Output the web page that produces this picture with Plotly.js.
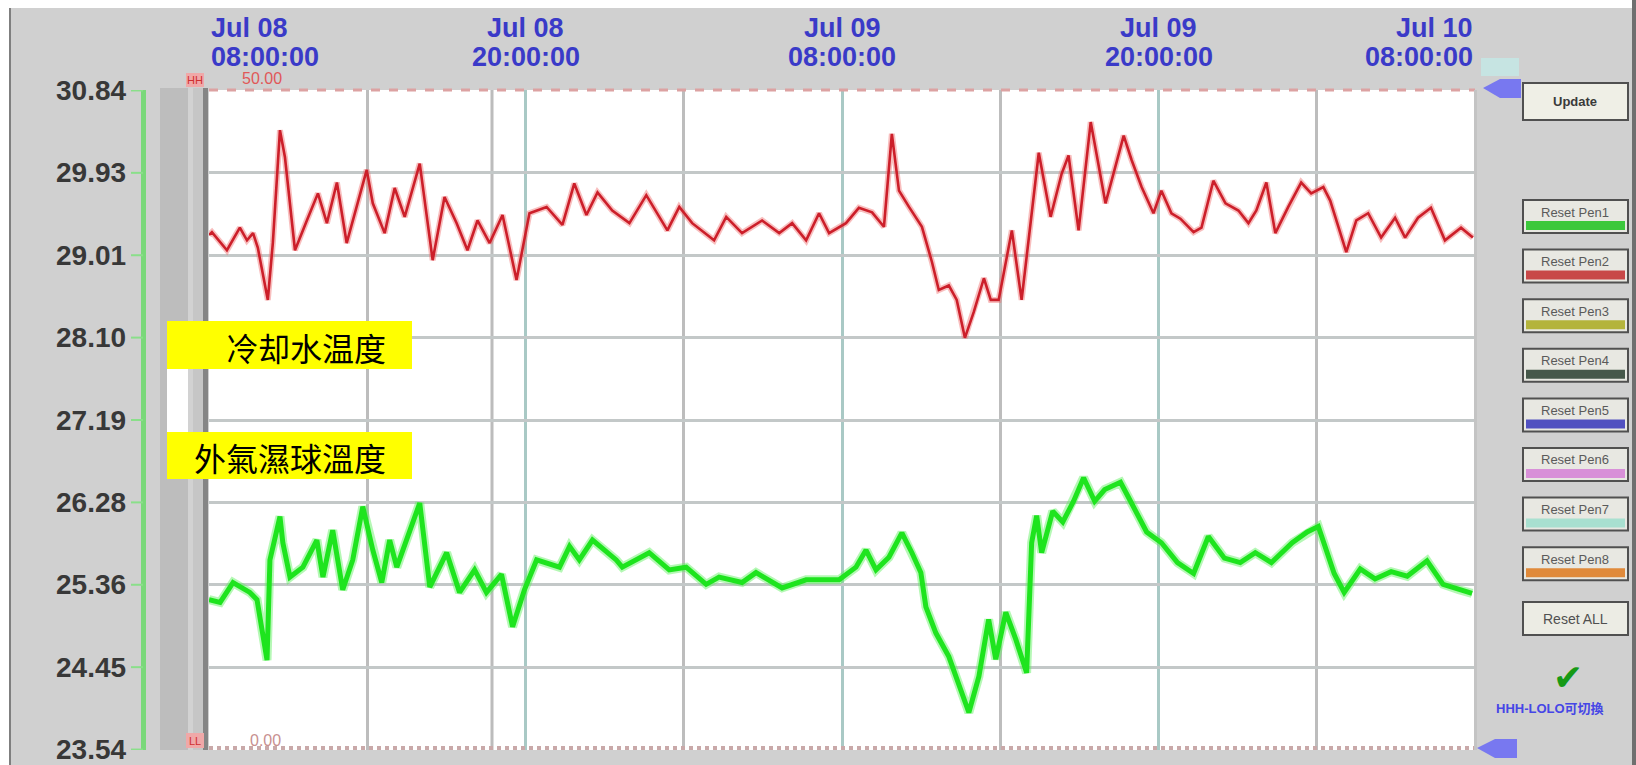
<!DOCTYPE html>
<html>
<head>
<meta charset="utf-8">
<script src="https://cdn.plot.ly/plotly-3.0.1.min.js"></script>
<style>
  html, body { margin: 0; padding: 0; background: #ffffff; }
  #chart { width: 1636px; height: 765px; }
</style>
</head>
<body>
<div id="chart"></div>
<script>
// ---- trend data: hours after Jul 08 08:00 and temperatures (°C) ----
const hoursCooling = [
  0, 0.11, 0.68, 1.17, 1.44, 1.67, 1.85, 2.04, 2.23, 2.42,
  2.69, 2.88, 3.26, 3.71, 4.13, 4.47, 4.85, 5.22, 5.45, 5.98,
  6.21, 6.66, 7.04, 7.42, 7.99, 8.48, 8.93, 9.39, 9.80, 10.18,
  10.64, 11.13, 11.66, 11.96, 12.15, 12.80, 13.40, 13.85, 14.31, 14.73,
  15.29, 15.94, 16.58, 17.38, 17.83, 18.32, 19.15, 19.61, 20.21, 20.97,
  21.62, 22.11, 22.64, 23.13, 23.51, 24.15, 24.64, 25.14, 25.59, 25.89,
  26.16, 26.54, 27.03, 27.41, 27.67, 28.05, 28.35, 28.66, 29.00, 29.38,
  29.64, 29.94, 30.44, 30.81, 31.46, 31.91, 32.33, 32.59, 32.97, 33.43,
  33.99, 34.68, 34.98, 35.36, 35.81, 36.11, 36.49, 36.83, 37.33, 37.63,
  38.08, 38.54, 39.03, 39.41, 39.71, 40.09, 40.43, 40.92, 41.41, 41.79,
  42.25, 42.51, 43.12, 43.50, 43.95, 44.44, 44.97, 45.35, 45.84, 46.33,
  46.86, 47.47, 47.92
];
const coolingWaterTemp = [
  29.24, 29.27, 29.07, 29.32, 29.18, 29.26, 29.10, 28.79, 28.52, 29.15,
  30.40, 30.10, 29.07, 29.40, 29.70, 29.37, 29.82, 29.15, 29.40, 29.96,
  29.59, 29.26, 29.76, 29.44, 30.03, 28.96, 29.66, 29.37, 29.07, 29.40,
  29.15, 29.46, 28.74, 29.18, 29.48, 29.55, 29.35, 29.81, 29.46, 29.71,
  29.51, 29.37, 29.68, 29.29, 29.55, 29.37, 29.18, 29.44, 29.26, 29.40,
  29.26, 29.37, 29.18, 29.48, 29.26, 29.37, 29.54, 29.49, 29.33, 30.36,
  29.73, 29.55, 29.33, 28.94, 28.63, 28.68, 28.52, 28.10, 28.39, 28.76,
  28.52, 28.52, 29.29, 28.52, 30.15, 29.44, 29.92, 30.12, 29.29, 30.49,
  29.59, 30.34, 30.07, 29.77, 29.48, 29.73, 29.48, 29.42, 29.27, 29.32,
  29.84, 29.59, 29.51, 29.37, 29.51, 29.82, 29.26, 29.55, 29.82, 29.70,
  29.77, 29.62, 29.05, 29.40, 29.48, 29.21, 29.43, 29.21, 29.43, 29.54,
  29.18, 29.32, 29.21
];
const hoursWetBulb = [
  0, 0.42, 0.91, 1.55, 1.82, 2.01, 2.20, 2.31, 2.69, 2.80,
  3.07, 3.56, 4.09, 4.32, 4.69, 5.07, 5.45, 5.83, 6.21, 6.55,
  6.85, 7.12, 7.99, 8.37, 9.01, 9.50, 10.07, 10.52, 11.09, 11.51,
  11.96, 12.42, 13.29, 13.67, 14.04, 14.54, 15.44, 15.67, 16.69, 17.45,
  18.09, 18.85, 19.34, 20.21, 20.74, 21.73, 22.64, 23.89, 24.53, 24.91,
  25.29, 25.78, 26.27, 26.65, 26.99, 27.18, 27.56, 28.05, 28.43, 28.81,
  29.19, 29.56, 29.83, 30.21, 30.59, 31.00, 31.19, 31.38, 31.57, 31.99,
  32.37, 32.78, 33.16, 33.58, 33.96, 34.56, 34.94, 35.55, 36.11, 36.72,
  37.33, 37.89, 38.50, 39.10, 39.67, 40.28, 41.07, 41.64, 42.06, 42.66,
  43.04, 43.65, 44.21, 44.82, 45.43, 46.18, 46.79, 47.39, 47.89
];
const wetBulbTemp = [
  25.20, 25.17, 25.39, 25.28, 25.20, 24.87, 24.53, 25.64, 26.12, 25.83,
  25.45, 25.56, 25.86, 25.45, 25.97, 25.31, 25.64, 26.23, 25.75, 25.39,
  25.86, 25.56, 26.27, 25.34, 25.72, 25.28, 25.53, 25.28, 25.48, 24.90,
  25.31, 25.64, 25.56, 25.79, 25.64, 25.86, 25.64, 25.56, 25.72, 25.53,
  25.56, 25.37, 25.45, 25.39, 25.50, 25.33, 25.42, 25.42, 25.56, 25.75,
  25.53, 25.67, 25.94, 25.72, 25.50, 25.12, 24.83, 24.57, 24.24, 23.95,
  24.35, 24.98, 24.54, 25.06, 24.76, 24.39, 25.83, 26.13, 25.72, 26.18,
  26.06, 26.29, 26.55, 26.29, 26.42, 26.50, 26.29, 25.95, 25.83, 25.61,
  25.49, 25.90, 25.66, 25.61, 25.72, 25.61, 25.83, 25.95, 26.01, 25.49,
  25.28, 25.54, 25.43, 25.51, 25.46, 25.63, 25.37, 25.31, 25.27
];

// ---- axis labels ----
const yTickVals = [30.84, 29.9275, 29.015, 28.1025, 27.19, 26.2775, 25.365, 24.4525, 23.54];
const yTickText = ['30.84', '29.93', '29.01', '28.10', '27.19', '26.28', '25.36', '24.45', '23.54'];
const timeTickHours = [0, 12, 24, 36, 48];
const timeTickDay = ['Jul 08', 'Jul 08', 'Jul 09', 'Jul 09', 'Jul 10'];
const timeTickClock = ['08:00:00', '20:00:00', '08:00:00', '20:00:00', '08:00:00'];
const cursorHour = 10.73;

const seriesNames = ['冷却水温度', '外氣濕球溫度'];
const penButtonLabels = ['Reset Pen1', 'Reset Pen2', 'Reset Pen3', 'Reset Pen4',
                         'Reset Pen5', 'Reset Pen6', 'Reset Pen7', 'Reset Pen8'];
const penColors = ['#3cc83c', '#c84848', '#b4b43c', '#46584a',
                   '#5050c0', '#d890d8', '#a8e0d0', '#e08a3a'];

// ---- helpers ----
const T0 = Date.UTC(2023, 6, 8, 8, 0, 0);
function toDate(h) {
  return new Date(T0 + h * 3600000).toISOString().slice(0, 19).replace('T', ' ');
}
// page pixel -> paper fraction (plot area is 209..1475 x 90..750)
const L = 209, R = 1475, TOP = 90, BOT = 750;
const X = px => (px - L) / (R - L);
const Y = py => (BOT - py) / (BOT - TOP);

const shapes = [];
const annotations = [];
function rect(x0, y0, x1, y1, fill, line, lw) {
  shapes.push({ type: 'rect', xref: 'paper', yref: 'paper',
    x0: X(x0), x1: X(x1), y0: Y(y1), y1: Y(y0),
    fillcolor: fill, line: { color: line || fill, width: lw || 0 } });
}
function text(px, py, t, size, color, anchor, family) {
  annotations.push({ xref: 'paper', yref: 'paper', x: X(px), y: Y(py),
    text: t, showarrow: false, xanchor: anchor || 'center', yanchor: 'middle',
    font: { size: size, color: color, family: family || 'Liberation Sans, Arial, sans-serif' } });
}

// ---- frame ----
rect(0, 0, 1636, 8, '#ffffff');
rect(0, 0, 9, 765, '#ffffff');
rect(9, 8, 11, 765, '#7f7f7f');
rect(1632, 0, 1636, 765, '#6f6f6f');

// scale strip left of the plot
rect(160, 88, 188, 750, '#bdbdbd');
rect(188, 88, 193, 750, '#d2d2d2');
rect(193, 88, 203, 750, '#c6c6c6');
rect(203, 88, 208, 750, '#858585');
rect(167, 369, 188, 432, '#ffffff');

// green scale line with ticks and the scale values
rect(141, 90, 146, 750, '#7ad87a');
yTickVals.forEach((v, i) => {
  shapes.push({ type: 'line', xref: 'paper', yref: 'y',
    x0: X(131), x1: X(143), y0: v, y1: v, line: { color: '#8adf8a', width: 2 } });
  annotations.push({ xref: 'paper', yref: 'y', x: X(128), y: v,
    text: '<b>' + yTickText[i] + '</b>', showarrow: false, xanchor: 'right', yanchor: 'middle',
    font: { size: 28, color: '#383838', family: 'Liberation Sans, Arial, sans-serif' } });
});

// alarm limit lines
shapes.push({ type: 'line', xref: 'paper', yref: 'paper', x0: 0, x1: 1, y0: 1, y1: 1,
  line: { color: '#dca2a2', width: 3, dash: 'dash' } });
shapes.push({ type: 'line', xref: 'paper', yref: 'paper', x0: 0, x1: 1, y0: 0.003, y1: 0.003,
  line: { color: '#c9a9a9', width: 4, dash: 'dot' } });
rect(1474, 90, 1477, 750, '#c4c4c4');

// cursor line
shapes.push({ type: 'line', xref: 'x', yref: 'paper', x0: toDate(cursorHour), x1: toDate(cursorHour),
  y0: 0, y1: 1, layer: 'below', line: { color: '#bcbcbc', width: 3 } });

// limit labels
rect(186, 73, 204, 87, '#f0a8a8');
text(195, 80, 'HH', 11, '#d03030');
text(262, 78, '50.00', 16, '#e05858');
rect(186, 733, 204, 748, '#f0a8a8');
text(195, 741, 'LL', 11, '#d03030');
text(265, 740, '0.00', 16, '#c89090');

// series label boxes
rect(167, 321, 412, 369, '#ffff00');
rect(167, 432, 412, 479, '#ffff00');
text(388, 347, seriesNames[0], 32, '#000000', 'right', 'Noto Sans CJK TC, Noto Sans CJK SC, sans-serif');
text(388, 457, seriesNames[1], 32, '#000000', 'right', 'Noto Sans CJK TC, Noto Sans CJK SC, sans-serif');

// time labels above the plot
timeTickHours.forEach((h, i) => {
  const anchor = i === 0 ? 'left' : (i === timeTickHours.length - 1 ? 'right' : 'center');
  [[timeTickDay[i], 28], [timeTickClock[i], 57]].forEach(([t, py]) => {
    annotations.push({ xref: 'x', yref: 'paper', x: toDate(h), y: Y(py),
      text: '<b>' + t + '</b>', showarrow: false, xanchor: anchor, yanchor: 'middle',
      font: { size: 27, color: '#3a3ac8', family: 'Liberation Sans, Arial, sans-serif' } });
  });
});

// right-hand control panel
rect(1523, 83, 1628, 120, '#efefe6', '#505050', 2);
text(1575, 101, '<b>Update</b>', 13, '#3a3a3a');
penButtonLabels.forEach((label, i) => {
  const t = 200 + 49.6 * i;
  rect(1523, t, 1628, t + 33, '#e8e8e2', '#505050', 2);
  rect(1526, t + 21, 1625, t + 30, penColors[i]);
  text(1575, t + 12, label, 13, '#5a5a5a');
});
rect(1523, 602, 1628, 635, '#ececE4', '#505050', 2);
text(1575, 619, 'Reset ALL', 14, '#505050');
text(1568, 677, '✔', 36, '#169a16', 'center', 'DejaVu Sans, sans-serif');
text(1494, 708, '<b>HHH-LOLO可切換</b>', 13, '#4646e6', 'left', 'Liberation Sans, Noto Sans CJK TC, sans-serif');

// pen markers at the right edge of the plot
shapes.push({ type: 'path', xref: 'paper', yref: 'paper', fillcolor: '#7878f0', line: { width: 0 },
  path: `M${X(1483)},${Y(88)} L${X(1500)},${Y(79)} L${X(1521)},${Y(79)} L${X(1521)},${Y(98)} L${X(1500)},${Y(98)} Z` });
shapes.push({ type: 'path', xref: 'paper', yref: 'paper', fillcolor: '#7878f0', line: { width: 0 },
  path: `M${X(1477)},${Y(748)} L${X(1495)},${Y(739)} L${X(1517)},${Y(739)} L${X(1517)},${Y(758)} L${X(1495)},${Y(758)} Z` });
rect(1481, 58, 1519, 76, '#c6e4e2');

// ---- traces ----
const xCool = hoursCooling.map(toDate);
const xWet = hoursWetBulb.map(toDate);
const traces = [
  { x: xWet, y: wetBulbTemp, type: 'scatter', mode: 'lines', name: seriesNames[1],
    line: { color: 'rgba(90,240,90,0.45)', width: 9 }, hoverinfo: 'skip' },
  { x: xWet, y: wetBulbTemp, type: 'scatter', mode: 'lines', name: seriesNames[1],
    line: { color: '#1ee41e', width: 5 } },
  { x: xCool, y: coolingWaterTemp, type: 'scatter', mode: 'lines', name: seriesNames[0],
    line: { color: 'rgba(240,110,110,0.45)', width: 6 }, hoverinfo: 'skip' },
  { x: xCool, y: coolingWaterTemp, type: 'scatter', mode: 'lines', name: seriesNames[0],
    line: { color: '#cc1f2a', width: 2.6 } }
];

const layout = {
  width: 1636, height: 765,
  margin: { l: L, r: 1636 - R, t: TOP, b: 765 - BOT, pad: 0 },
  paper_bgcolor: '#d0d0d0',
  plot_bgcolor: '#ffffff',
  showlegend: false,
  xaxis: {
    type: 'date', range: [toDate(0), toDate(48)],
    showticklabels: false, ticks: '', zeroline: false, showline: false,
    tick0: toDate(0), dtick: 12 * 3600000,
    showgrid: true, gridcolor: '#a9c9c5', gridwidth: 3,
    minor: { tick0: toDate(0), dtick: 6 * 3600000, showgrid: true, gridcolor: '#bdbdbd', gridwidth: 3 }
  },
  yaxis: {
    range: [23.535, 30.845], tickmode: 'array', tickvals: yTickVals,
    showticklabels: false, ticks: '', zeroline: false, showline: false,
    showgrid: true, gridcolor: '#c3c8c8', gridwidth: 3
  },
  shapes: shapes,
  annotations: annotations
};

Plotly.newPlot('chart', traces, layout, { staticPlot: true, displayModeBar: false });
</script>
</body>
</html>
